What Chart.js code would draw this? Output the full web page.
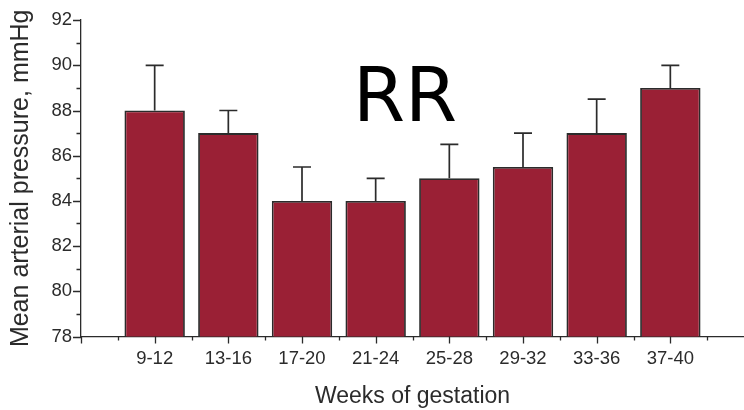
<!DOCTYPE html>
<html>
<head>
<meta charset="utf-8">
<script src="https://cdn.jsdelivr.net/npm/chart.js@4"></script>
<style>
  html, body { margin: 0; padding: 0; background: #fff; }
  #wrap { width: 744px; height: 410px; position: relative; }
</style>
</head>
<body>
<div id="wrap"><canvas id="chart"></canvas></div>
<script>
// weeks of gestation groups and mean arterial pressure (mmHg)
const weeks = ['9-12', '13-16', '17-20', '21-24', '25-28', '29-32', '33-36', '37-40'];
const meanPressure = [88, 87, 84, 84, 85, 85.5, 87, 89];
const errorUp = [2, 1, 1.5, 1, 1.5, 1.5, 1.5, 1];
const yMin = 78, yMax = 92;

const barColor = '#9a2035';
const inkColor = '#2b2b2b';
const font = "'Liberation Sans', Arial, sans-serif";

// upper error bars, placed through the y scale
const errorBars = {
  id: 'errorBars',
  afterDatasetsDraw(chart) {
    const ctx = chart.ctx;
    const y = chart.scales.y;
    const meta = chart.getDatasetMeta(0);
    ctx.save();
    ctx.strokeStyle = inkColor;
    ctx.lineWidth = 1.7;
    meta.data.forEach((bar, i) => {
      const top = y.getPixelForValue(meanPressure[i] + errorUp[i]);
      ctx.beginPath();
      ctx.moveTo(bar.x, bar.y);
      ctx.lineTo(bar.x, top);
      ctx.moveTo(bar.x - 9, top);
      ctx.lineTo(bar.x + 9, top);
      ctx.stroke();
    });
    ctx.restore();
  }
};

// outward tick marks, long on majors, short on minors
const tickMarks = {
  id: 'tickMarks',
  afterDraw(chart) {
    const ctx = chart.ctx;
    const {x, y} = chart.scales;
    const area = chart.chartArea;
    ctx.save();
    ctx.strokeStyle = inkColor;
    ctx.lineWidth = 1.3;
    ctx.beginPath();
    for (let v = yMin; v <= yMax; v++) {
      const py = Math.round(y.getPixelForValue(v)) + 0.5;
      const len = v % 2 === 0 ? 8 : 4.5;
      ctx.moveTo(area.left, py);
      ctx.lineTo(area.left - len, py);
    }
    for (let v = 0; v < weeks.length + 1; v += 0.5) {
      const px = Math.round(x.getPixelForValue(v)) + 0.5;
      const len = Number.isInteger(v) ? 7 : 4;
      ctx.moveTo(px, area.bottom);
      ctx.lineTo(px, area.bottom + len);
    }
    ctx.stroke();
    ctx.restore();
  }
};

// the big panel tag
const panelTag = {
  id: 'panelTag',
  afterDraw(chart) {
    const ctx = chart.ctx;
    ctx.save();
    ctx.fillStyle = '#000';
    ctx.font = "75px 'DejaVu Sans', sans-serif";
    ctx.textBaseline = 'alphabetic';
    ctx.fillText('RR', 353, 121);
    ctx.restore();
  }
};

new Chart(document.getElementById('chart'), {
  type: 'bar',
  data: {
    datasets: [{
      data: meanPressure.map((v, i) => ({x: i + 1, y: v})),
      backgroundColor: barColor,
      borderColor: inkColor,
      borderWidth: 1.8,
      borderSkipped: 'bottom',
      barPercentage: 0.82,
      categoryPercentage: 1
    }]
  },
  options: {
    responsive: true,
    maintainAspectRatio: false,
    animation: false,
    layout: { padding: { top: 17, right: 0, left: 0, bottom: 0 } },
    plugins: { legend: { display: false }, tooltip: { enabled: false } },
    scales: {
      x: {
        type: 'linear',
        offset: false,
        min: 0,
        max: weeks.length + 1,
        afterFit: s => { s.height = 73.5; },
        afterBuildTicks: s => {
          s.ticks = weeks.map((w, i) => ({value: i + 1}));
        },
        grid: { display: false, drawTicks: false },
        border: { display: true, color: inkColor, width: 1.3 },
        ticks: {
          autoSkip: false,
          maxRotation: 0,
          padding: 11,
          color: inkColor,
          font: { family: font, size: 18.5 },
          callback: v => weeks[v - 1] || ''
        },
        title: {
          display: true,
          text: 'Weeks of gestation',
          color: inkColor,
          font: { family: font, size: 23 },
          padding: { top: 8, bottom: 0 }
        }
      },
      y: {
        min: yMin,
        max: yMax,
        afterFit: s => { s.width = 81; },
        grid: { display: false, drawTicks: false },
        border: { display: true, color: inkColor, width: 1.3 },
        ticks: {
          stepSize: 2,
          padding: 9,
          color: inkColor,
          font: { family: font, size: 18.5 }
        },
        title: {
          display: true,
          text: 'Mean arterial pressure, mmHg',
          color: inkColor,
          font: { family: font, size: 25 },
          padding: { top: 6, bottom: 4 }
        }
      }
    }
  },
  plugins: [errorBars, tickMarks, panelTag]
});
</script>
</body>
</html>
